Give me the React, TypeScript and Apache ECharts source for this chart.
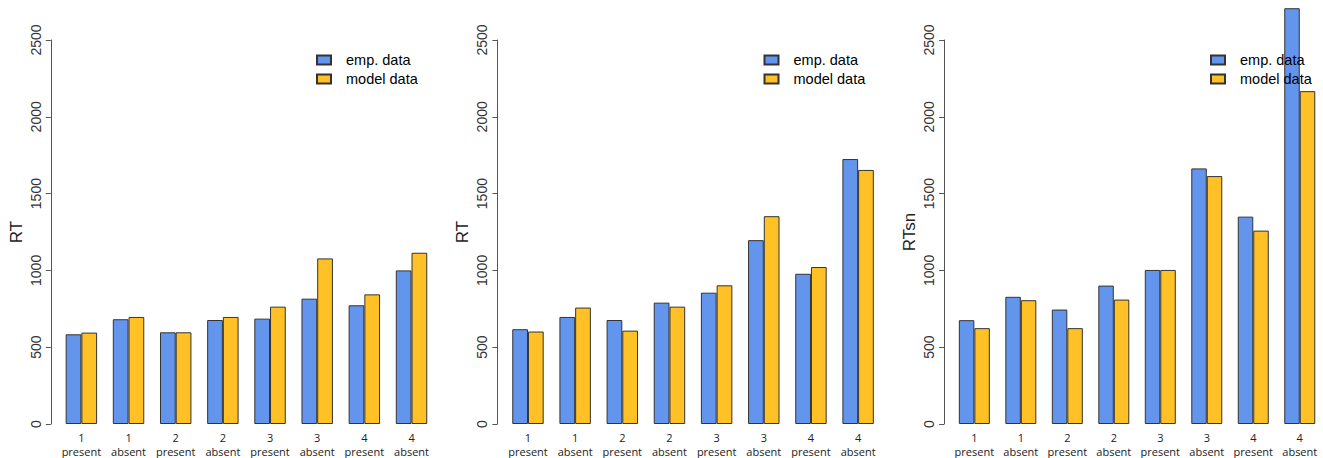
import React, { useEffect, useRef } from "react";
import * as echarts from "echarts";

const categories = ["1\npresent", "1\nabsent", "2\npresent", "2\nabsent", "3\npresent", "3\nabsent", "4\npresent", "4\nabsent"];
const seriesNames = ["emp. data", "model data"];
const yTitles = ["RT", "RT", "RTsn"];

const emp1 = [584, 682, 597, 677, 686, 816, 773, 1000];
const model1 = [595, 697, 597, 697, 764, 1078, 844, 1115];
const emp2 = [617, 697, 677, 790, 855, 1197, 978, 1725];
const model2 = [602, 758, 608, 764, 903, 1353, 1022, 1654];
const emp3 = [676, 828, 745, 901, 1003, 1664, 1350, 2707];
const model3 = [624, 806, 624, 810, 1003, 1614, 1259, 2167];

const yMin = 0;
const yMax = 2500;
const yInterval = 500;

const BLUE = "#6495ED";
const GOLD = "#FFC125";

export default function App() {
  const ref = useRef<HTMLDivElement>(null);
  useEffect(() => {
    if (!ref.current) return;
    const chart = echarts.init(ref.current, undefined, { renderer: "svg" });
    const gridLefts = [57.8, 504.4, 951.1];
    const legendLefts = [316, 763.5, 1210];
    const empData = [emp1, emp2, emp3];
    const modelData = [model1, model2, model3];
    const gridW = 377.3;
    const font = "'Liberation Sans', Arial, sans-serif";

    const grid = gridLefts.map((l) => ({ left: l, width: gridW, top: 40, height: 385 }));
    const xAxis = gridLefts.map((_, i) => ({
      type: "category",
      gridIndex: i,
      data: categories,
      axisLine: { show: false },
      axisTick: { show: false },
      axisLabel: { interval: 0, fontSize: 11, lineHeight: 14, margin: 6, color: "#222", fontFamily: "'Open Sans', sans-serif" },
    }));
    const yAxis = gridLefts.map((_, i) => ({
      type: "value",
      gridIndex: i,
      min: yMin,
      max: yMax,
      interval: yInterval,
      offset: 7,
      name: yTitles[i],
      nameLocation: "middle",
      nameGap: 26,
      nameRotate: 90,
      nameTextStyle: { fontSize: 17, color: "#222", fontFamily: font },
      axisLine: { show: true, lineStyle: { color: "#555", width: 1 } },
      axisTick: { show: true, length: 5, lineStyle: { color: "#555" } },
      splitLine: { show: false },
      axisLabel: { rotate: 90, fontSize: 14, margin: 8, color: "#333", fontFamily: font, formatter: (v: number) => String(v) },
    }));
    const series: any[] = [];
    gridLefts.forEach((_, i) => {
      [empData[i], modelData[i]].forEach((d, k) => {
        series.push({
          type: "bar",
          name: seriesNames[k],
          xAxisIndex: i,
          yAxisIndex: i,
          data: d,
          barGap: "0%",
          barCategoryGap: "33.333%",
          clip: false,
          itemStyle: { color: k === 0 ? BLUE : GOLD, borderColor: "#333", borderWidth: 1 },
        });
      });
    });
    const legend = legendLefts.map((l) => ({
      left: l,
      top: 52.5,
      orient: "vertical",
      padding: 0,
      itemWidth: 14,
      itemHeight: 9,
      itemGap: 4,
      z: 10,
      icon: "rect",
      data: seriesNames,
      selectedMode: false,
      textStyle: { fontSize: 14.5, lineHeight: 14, color: "#000", fontFamily: font, padding: [0, 0, 0, 10] },
    }));

    chart.setOption({
      animation: false,
      backgroundColor: "#fff",
      grid,
      xAxis,
      yAxis,
      series,
      legend,
    });
    return () => chart.dispose();
  }, []);
  return <div ref={ref} style={{ position: "fixed", left: 0, top: 0, width: 1323, height: 458 }} />;
}
